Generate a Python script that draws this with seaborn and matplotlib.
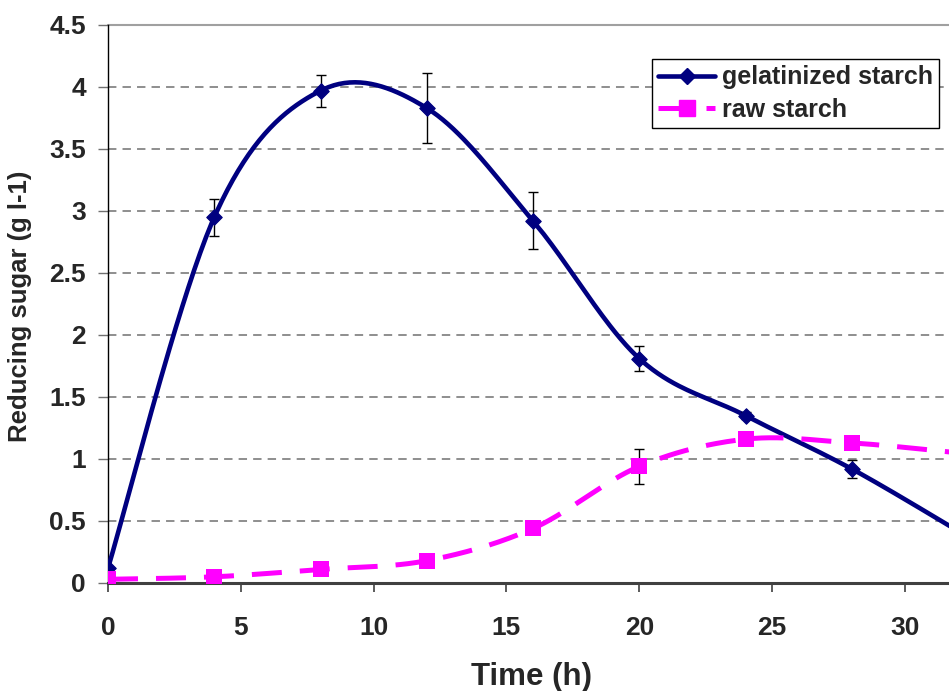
import numpy as np
import pandas as pd
import matplotlib
matplotlib.use("Agg")
import matplotlib.pyplot as plt
import seaborn as sns
from matplotlib.lines import Line2D

# ---- data ----
time_h = [0, 4, 8, 12, 16, 20, 24, 28, 32]
gelatinized = [0.12, 2.95, 3.97, 3.83, 2.92, 1.81, 1.35, 0.92, 0.42]
gelatinized_err = [0.0, 0.15, 0.13, 0.28, 0.23, 0.10, 0.03, 0.07, 0.0]
raw = [0.03, 0.05, 0.11, 0.18, 0.44, 0.94, 1.16, 1.13, 1.05]
raw_err = [0.0, 0.0, 0.0, 0.0, 0.0, 0.14, 0.0, 0.0, 0.0]
y_ticks = [0, 0.5, 1, 1.5, 2, 2.5, 3, 3.5, 4, 4.5]
y_tick_labels = ["0", "0.5", "1", "1.5", "2", "2.5", "3", "3.5", "4", "4.5"]
x_ticks = [0, 5, 10, 15, 20, 25, 30]
labels = ["gelatinized starch", "raw starch"]


def smooth(xs, ys, n=40):
    """Excel-style Catmull-Rom Bezier smoothing of the line through points."""
    P = np.column_stack([xs, ys]).astype(float)
    out = []
    for i in range(len(P) - 1):
        p0 = P[i - 1] if i > 0 else P[i]
        p1 = P[i]
        p2 = P[i + 1]
        p3 = P[i + 2] if i + 2 < len(P) else P[i + 1]
        c1 = p1 + (p2 - p0) / 6.0
        c2 = p2 - (p3 - p1) / 6.0
        t = np.linspace(0, 1, n, endpoint=(i == len(P) - 2))[:, None]
        b = ((1 - t) ** 3) * p1 + 3 * ((1 - t) ** 2) * t * c1 + 3 * (1 - t) * t ** 2 * c2 + t ** 3 * p2
        out.append(b)
    out = np.vstack(out)
    return out[:, 0], out[:, 1]


sns.set_theme(style="white")
plt.rcParams["font.family"] = ["Liberation Sans", "DejaVu Sans"]
plt.rcParams["font.weight"] = "bold"

fig = plt.figure(figsize=(9.49, 6.91), dpi=100)
ax = fig.add_axes([108 / 949, 1 - 583 / 691, (949 - 108) / 949, (583 - 25) / 691])

navy = "#000080"
magenta = "#FF00FF"
raw_dash = (0, (6, 3.6))

# horizontal grid lines
for yv in y_ticks[1:-1]:
    ax.axhline(yv, color="#707070", lw=1.1, ls=(0, (5.5, 4.0)), zorder=0)
ax.axhline(4.5, color="#a0a0a0", lw=1.5, zorder=0, clip_on=False)

# smoothed lines
gx, gy = smooth(time_h, gelatinized)
rx, ry = smooth(time_h, raw)
sns.lineplot(x=gx, y=gy, ax=ax, color=navy, lw=3.3, sort=False, zorder=3)
sns.lineplot(x=rx, y=ry, ax=ax, color=magenta, lw=3.6, sort=False, zorder=3)
ax.lines[-1].set_linestyle(raw_dash)

# error bars
ax.errorbar(time_h, gelatinized, yerr=gelatinized_err, fmt="none", ecolor="black",
            elinewidth=1.0, capsize=3.3, capthick=1.0, zorder=4)
ax.errorbar(time_h, raw, yerr=raw_err, fmt="none", ecolor="black",
            elinewidth=1.0, capsize=3.3, capthick=1.0, zorder=4)

# markers
sns.scatterplot(x=time_h, y=gelatinized, ax=ax, marker="D", s=62, color=navy,
                edgecolor=navy, linewidth=0.8, zorder=5)
sns.scatterplot(x=time_h, y=raw, ax=ax, marker="s", s=135, color=magenta,
                edgecolor=magenta, linewidth=0, zorder=5)

ax.set_xlim(0, 31.66)
ax.set_ylim(0, 4.5)
ax.set_xticks(x_ticks)
ax.set_xticklabels([str(v) for v in x_ticks], fontsize=19, fontweight="bold")
ax.set_yticks(y_ticks)
ax.set_yticklabels(y_tick_labels, fontsize=19, fontweight="bold")

for s in ["top", "right"]:
    ax.spines[s].set_visible(False)
ax.spines["left"].set_color("black")
ax.spines["left"].set_linewidth(1.0)
ax.spines["bottom"].set_color("#404040")
ax.spines["bottom"].set_linewidth(2.2)

ax.tick_params(axis="x", direction="out", length=6.5, width=1.2, color="#404040",
               pad=17, bottom=True)
ax.tick_params(axis="y", direction="out", length=7, width=1.0, color="#707070",
               pad=9, left=True)

ax.set_xlabel("Time (h)", fontsize=22.5, fontweight="bold")
ax.xaxis.set_label_coords(0.504, -0.1416)
ax.set_ylabel("Reducing sugar (g l-1)", fontsize=18.5, fontweight="bold")
ax.yaxis.set_label_coords(-0.0907, 0.4966)

# legend
h1 = Line2D([0], [0], color=navy, lw=3.3, marker="D", markersize=8)
h2 = Line2D([0], [0], color=magenta, lw=3.6, ls=raw_dash, marker="s", markersize=11)
leg = ax.legend([h1, h2], labels, loc="upper left", bbox_to_anchor=(0.6465, 0.939),
                fancybox=False, shadow=False, frameon=True,
                prop={"weight": "bold", "size": 18}, borderpad=0.25,
                handlelength=2.3, handletextpad=0.25, labelspacing=0.35,
                borderaxespad=0)
leg.get_frame().set_edgecolor("black")
leg.get_frame().set_linewidth(1.0)
leg.get_frame().set_alpha(1)

fig.savefig("out.png", dpi=100)
